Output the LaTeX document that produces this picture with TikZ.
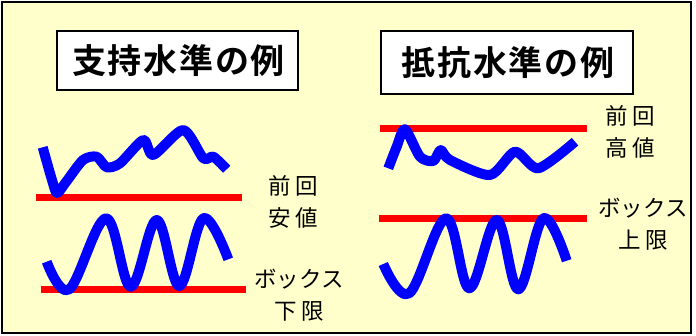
\documentclass[tikz,border=0pt]{standalone}
\usepackage{fontspec}
\newfontfamily\jp{Noto Sans CJK JP}
\newfontfamily\jpb[LetterSpace=5]{Noto Sans CJK JP Bold}
\newcommand{\kg}{\hspace{5pt}}
\definecolor{bgyel}{HTML}{FFFFCC}
\definecolor{pblue}{HTML}{0000FF}
\definecolor{pred}{HTML}{FF0000}
\tikzset{
  titlebox/.style={draw=black, line width=1.6pt, fill=white, inner sep=0pt, font=\jpb\fontsize{34}{38}\selectfont},
  lbl/.style={align=center, inner sep=0pt, font=\jp\fontsize{22.5}{32}\selectfont},
  level/.style={draw=pred, line width=7pt},
  price/.style={draw=pblue, line width=10pt, line join=round, line cap=butt}
}
\begin{document}
\begin{tikzpicture}[x=1pt,y=-1pt]
\useasboundingbox (0,0) rectangle (696,335);
\draw[fill=bgyel, draw=black, line width=2pt] (2,2) rectangle (691,333);
% titles
\node[titlebox, minimum width=241pt, minimum height=59pt] (t1) at (177.5,60.5) {支持水準の例\hspace*{-2pt}};
\node[titlebox, minimum width=252pt, minimum height=63pt] (t2) at (507,62.5) {抵抗水準の例\hspace*{-2pt}};
% left panel
\draw[level] (36,197) -- (242,197);
\draw[level] (41,289.5) -- (246,289.5);
\draw[price] plot[smooth, tension=0.45] coordinates {(42.7,147.3) (52,180) (57,193) (66,182) (83,160) (96.7,156.7) (106.7,167.3) (120,163.3) (143.3,140) (153.3,155) (183.3,130) (203.3,158.3) (213.3,156.7) (226.7,169.3)};
\draw[price] plot[smooth, tension=0.6] coordinates {(46.7,261.7) (69.3,289.3) (106,218.3) (130.7,286.7) (156.7,220) (179.3,286) (203.3,218.3) (228.3,259.3)};
\node[lbl] (l1) at (293,202) {前\kg 回\\安\kg 値};
\node[lbl] (l2) at (299,295) {ボックス\\下\kg 限};
% right panel
\draw[level] (380,128) -- (587,128);
\draw[level] (379,218.5) -- (587,218.5);
\draw[price] plot[smooth, tension=0.45] coordinates {(388.3,168.3) (396.7,146.7) (405,129.3) (420,156.7) (433.3,161) (440.7,150) (450,160) (490,175) (515,151.7) (538.3,168.3) (575,141.7)};
\draw[price] plot[smooth, tension=0.6] coordinates {(383.3,264) (409.3,293.3) (446,218.3) (469.3,288.3) (496.7,220) (518.3,289.3) (543.3,218.3) (566.7,260.7)};
\node[lbl] (r1) at (630,132) {前\kg 回\\高\kg 値};
\node[lbl] (r2) at (643,224) {ボックス\\上\kg 限};
\end{tikzpicture}
\end{document}
